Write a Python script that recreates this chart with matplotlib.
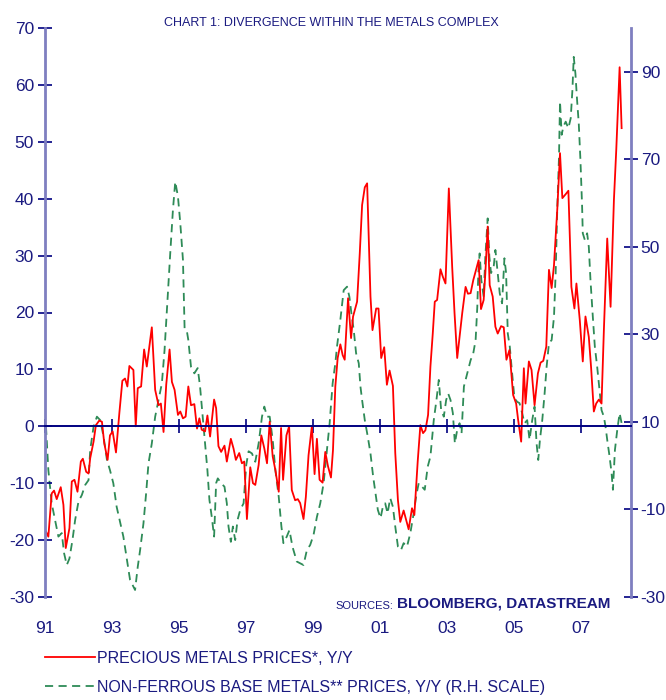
import matplotlib
matplotlib.use("Agg")
import matplotlib.pyplot as plt

plt.rcParams['font.family'] = ['Liberation Sans Narrow', 'Liberation Sans', 'DejaVu Sans']
plt.rcParams['axes.unicode_minus'] = False

NAVY = '#1a1a80'
SPINE = '#7f7fc0'
RED = '#ff0000'
GREEN = '#2e8b57'

# precious metals prices, y/y (left scale)
red_x = [1991.03, 1991.10, 1991.20, 1991.27, 1991.35, 1991.47, 1991.55, 1991.62, 1991.73, 1991.80, 1991.88, 1991.97,
         1992.07, 1992.13, 1992.23, 1992.30, 1992.35, 1992.45, 1992.52, 1992.62, 1992.70, 1992.77, 1992.87, 1992.94,
         1993.02, 1993.12, 1993.22, 1993.31, 1993.39, 1993.46, 1993.52, 1993.64, 1993.71, 1993.77, 1993.87, 1993.96,
         1994.04, 1994.19, 1994.29, 1994.39, 1994.46, 1994.54, 1994.62, 1994.72, 1994.79, 1994.87, 1994.97,
         1995.04, 1995.12, 1995.20, 1995.28, 1995.36, 1995.46, 1995.54, 1995.61, 1995.68, 1995.78, 1995.85, 1995.93,
         1996.05, 1996.11, 1996.18, 1996.26, 1996.36, 1996.43, 1996.55, 1996.63, 1996.70, 1996.80, 1996.88, 1996.95,
         1997.03, 1997.13, 1997.21, 1997.28, 1997.38, 1997.46, 1997.55, 1997.63, 1997.71, 1997.80, 1997.88, 1997.98,
         1998.05, 1998.11, 1998.21, 1998.29, 1998.37, 1998.47, 1998.55, 1998.62, 1998.72, 1998.79, 1998.87, 1998.97,
         1999.05, 1999.12, 1999.20, 1999.29, 1999.37, 1999.45, 1999.54, 1999.60, 1999.67, 1999.74, 1999.82, 1999.89, 1999.95,
         2000.05, 2000.14, 2000.20, 2000.32, 2000.40, 2000.47, 2000.55, 2000.62, 2000.72, 2000.78, 2000.89, 2000.96,
         2001.04, 2001.13, 2001.21, 2001.29, 2001.39, 2001.46, 2001.54, 2001.61, 2001.71, 2001.86, 2001.96,
         2002.03, 2002.13, 2002.21, 2002.29, 2002.36, 2002.44, 2002.51, 2002.58, 2002.64, 2002.71, 2002.81, 2002.88, 2002.96,
         2003.06, 2003.16, 2003.23, 2003.31, 2003.39, 2003.46, 2003.56, 2003.63, 2003.71, 2003.79, 2003.86, 2003.95,
         2004.02, 2004.10, 2004.15, 2004.22, 2004.28, 2004.37, 2004.45, 2004.52, 2004.62, 2004.70, 2004.78, 2004.87, 2004.98,
         2005.07, 2005.13, 2005.22, 2005.30, 2005.35, 2005.45, 2005.53, 2005.62, 2005.72, 2005.80, 2005.88, 2005.97,
         2006.05, 2006.13, 2006.20, 2006.30, 2006.38, 2006.45, 2006.55, 2006.63, 2006.72, 2006.81, 2006.87, 2006.97,
         2007.06, 2007.14, 2007.24, 2007.31, 2007.39, 2007.46, 2007.54, 2007.62, 2007.69, 2007.79, 2007.89, 2007.99,
         2008.06, 2008.16, 2008.22]
red_y = [-18.5, -19.4, -11.8, -11.3, -12.8, -10.7, -13.8, -21.4, -17.9, -9.7, -9.4, -11.5,
         -6.2, -5.7, -8.0, -8.3, -5.6, -2.7, 0.2, 1.0, 0.8, -3.0, -5.9, -1.6,
         -0.9, -4.6, 2.3, 8.0, 8.4, 7.0, 10.6, 9.9, 0.0, 6.7, 7.0, 13.5,
         10.5, 17.4, 6.4, 3.7, 4.0, -1.0, 7.3, 13.5, 7.8, 6.4, 2.0,
         2.6, 1.4, 1.7, 7.0, 3.7, 3.9, -0.4, 1.4, -0.6, -0.9, 1.9, -1.8,
         4.7, 3.2, -3.5, -4.5, -3.4, -6.2, -2.2, -3.9, -5.9, -4.7, -6.5, -6.2,
         -16.3, -7.2, -10.0, -10.3, -6.8, -1.6, -3.9, -6.5, 0.8, -5.3, -7.7, -11.5,
         -0.3, -9.4, -1.6, 0.0, -11.2, -13.0, -12.8, -13.5, -16.3, -12.4, -5.1, 0.0,
         -8.4, -2.2, -9.4, -9.9, -4.5, -7.0, -9.0, -4.2, 7.0, 12.0, 14.4, 12.5, 11.7,
         22.5, 15.5, 19.3, 21.9, 30.4, 38.9, 42.0, 42.7, 22.8, 16.9, 20.7, 20.7,
         12.0, 13.9, 7.3, 9.8, 7.1, -4.7, -13.0, -16.8, -14.8, -18.1, -14.4,
         -15.6, -6.2, 0.2, -1.2, -0.7, 2.0, 10.5, 16.3, 21.9, 22.2, 27.6, 26.3, 25.1,
         41.8, 28.0, 19.9, 12.0, 16.3, 19.9, 24.5, 23.3, 23.4, 25.7, 27.2, 29.2,
         20.6, 22.2, 26.9, 35.1, 24.8, 22.8, 17.5, 16.3, 17.6, 17.4, 11.7, 13.4, 5.5,
         4.0, 1.1, -2.7, 10.2, 4.0, 11.4, 9.9, 3.7, 9.3, 11.2, 11.5, 14.0,
         27.5, 24.3, 28.3, 38.3, 48.0, 40.1, 40.8, 41.4, 24.5, 20.7, 25.1, 18.7,
         11.4, 19.3, 15.7, 10.2, 2.6, 4.0, 4.7, 4.0, 16.9, 33.0, 21.0, 39.8,
         48.6, 63.1, 52.4]

# non-ferrous base metals prices, y/y (right scale)
green_x = [1991.03, 1991.10, 1991.20, 1991.30, 1991.40, 1991.50, 1991.57, 1991.65, 1991.73, 1991.82, 1991.90,
           1992.00, 1992.10, 1992.20, 1992.30, 1992.35, 1992.45, 1992.55, 1992.65, 1992.75, 1992.85, 1992.94,
           1993.04, 1993.14, 1993.24, 1993.34, 1993.44, 1993.54, 1993.69, 1993.77, 1993.84, 1993.94,
           1994.02, 1994.09, 1994.19, 1994.29, 1994.39, 1994.49, 1994.57, 1994.64, 1994.74, 1994.82, 1994.89, 1994.97,
           1995.04, 1995.12, 1995.17, 1995.24, 1995.28, 1995.36, 1995.46, 1995.56, 1995.63, 1995.70, 1995.78, 1995.85, 1995.91, 1995.98,
           1996.05, 1996.11, 1996.16, 1996.26, 1996.36, 1996.43, 1996.48, 1996.55, 1996.61, 1996.68, 1996.75, 1996.83, 1996.93,
           1997.01, 1997.08, 1997.18, 1997.28, 1997.38, 1997.48, 1997.55, 1997.63, 1997.71, 1997.80, 1997.88, 1997.98,
           1998.06, 1998.12, 1998.22, 1998.30, 1998.39, 1998.52, 1998.62, 1998.72, 1998.82, 1998.92,
           1999.02, 1999.12, 1999.22, 1999.32, 1999.42, 1999.50, 1999.59, 1999.67, 1999.72, 1999.82, 1999.92,
           2000.02, 2000.09, 2000.15, 2000.22, 2000.29, 2000.37, 2000.42, 2000.47, 2000.55, 2000.64, 2000.72, 2000.80, 2000.87, 2000.94,
           2001.02, 2001.10, 2001.16, 2001.23, 2001.31, 2001.39, 2001.46, 2001.54, 2001.63, 2001.71, 2001.81, 2001.91,
           2002.01, 2002.09, 2002.16, 2002.26, 2002.34, 2002.43, 2002.51, 2002.61, 2002.69, 2002.76, 2002.83, 2002.91, 2002.98,
           2003.04, 2003.11, 2003.18, 2003.24, 2003.31, 2003.38, 2003.44, 2003.51, 2003.61, 2003.71, 2003.79, 2003.86, 2003.91, 2003.94, 2003.98,
           2004.03, 2004.10, 2004.15, 2004.22, 2004.27, 2004.32, 2004.40, 2004.45, 2004.52, 2004.58, 2004.65, 2004.72, 2004.77, 2004.82, 2004.88, 2004.95,
           2005.02, 2005.10, 2005.17, 2005.25, 2005.32, 2005.40, 2005.47, 2005.55, 2005.62, 2005.68, 2005.73, 2005.78, 2005.85, 2005.92, 2005.98,
           2006.05, 2006.13, 2006.20, 2006.25, 2006.30, 2006.35, 2006.38, 2006.43, 2006.48, 2006.55, 2006.63, 2006.70, 2006.75, 2006.79, 2006.84, 2006.89, 2006.94, 2006.99,
           2007.04, 2007.06, 2007.12, 2007.19, 2007.24, 2007.29, 2007.36, 2007.42, 2007.49, 2007.54, 2007.62, 2007.69, 2007.74, 2007.79, 2007.86, 2007.92, 2007.96,
           2008.02, 2008.09, 2008.16, 2008.22]
green_y = [8.9, -1.0, -8.6, -12.4, -16.2, -15.4, -20.0, -22.7, -21.2, -17.0, -12.4,
           -8.2, -6.7, -4.4, -3.3, 3.6, 8.9, 11.2, 10.4, 6.6, 1.3, -1.0,
           -4.0, -9.4, -12.8, -16.2, -21.2, -26.1, -28.4, -23.1, -19.3, -13.2,
           -6.3, 0.5, 5.1, 11.2, 15.0, 18.8, 26.4, 35.6, 48.5, 58.4, 64.9, 61.5,
           55.4, 47.0, 31.0, 30.6, 28.7, 22.6, 21.1, 22.3, 18.1, 12.0, 5.1, -1.0, -7.8, -11.7,
           -16.2, -4.0, -2.9, -4.0, -4.8, -8.6, -13.9, -17.4, -13.9, -17.0, -12.4, -10.1, -8.6,
           0.2, 3.3, 2.8, 0.9, 5.1, 11.2, 13.5, 11.2, 11.2, 5.9, -1.0, -7.1,
           -13.9, -17.7, -16.2, -14.7, -18.5, -21.9, -22.3, -22.7, -19.3, -18.1,
           -15.8, -11.7, -8.6, -4.0, 3.6, 9.7, 18.8, 23.4, 27.2, 33.3, 40.1,
           40.9, 38.6, 34.8, 31.0, 25.7, 23.4, 18.1, 15.0, 10.4, 6.6, 2.8, -2.5, -6.3, -10.1,
           -12.0, -9.0, -8.6, -10.9, -7.4, -9.4, -13.9, -18.5, -19.3, -17.7, -18.5, -15.4,
           -10.9, -6.7, -4.0, -4.8, -5.5, -0.2, 2.1, 10.4, 15.0, 19.6, 12.7, 11.2, 15.0,
           16.5, 15.0, 12.0, 5.1, 8.2, 9.7, 7.4, 18.1, 21.1, 24.1, 25.7, 28.7, 36.3, 44.0, 48.5,
           42.4, 38.6, 47.8, 56.5, 47.8, 44.0, 45.5, 49.3, 44.0, 39.4, 37.1, 47.4, 44.0, 30.2, 27.2, 21.1,
           15.4, 14.6, 14.3, 12.0, 9.7, 10.4, 5.9, 10.4, 13.5, 5.1, 1.3, 5.9, 10.4, 16.5, 22.6,
           28.0, 28.7, 34.0, 44.0, 59.2, 70.6, 83.2, 75.6, 77.5, 78.6, 77.1, 79.4, 85.8, 93.4, 89.6, 83.5, 78.2, 69.8,
           59.2, 53.1, 51.6, 53.1, 50.0, 42.4, 34.0, 27.2, 22.6, 18.8, 12.7, 11.2, 8.9, 5.9, 2.1, -1.7, -5.5,
           3.6, 8.2, 12.0, 9.7]

year_ticks = [1991, 1993, 1995, 1997, 1999, 2001, 2003, 2005, 2007]
year_labels = ['91', '93', '95', '97', '99', '01', '03', '05', '07']
left_ticks = [-30, -20, -10, 0, 10, 20, 30, 40, 50, 60, 70]
right_ticks = [-30, -10, 10, 30, 50, 70, 90]

fig = plt.figure(figsize=(6.66, 7.0), dpi=100)
ax = fig.add_axes([45 / 666, 103 / 700, 586 / 666, 569 / 700])
ax2 = ax.twinx()
ax.set_zorder(ax2.get_zorder() + 1)
ax.patch.set_visible(False)

ax2.plot(green_x, green_y, color=GREEN, lw=1.3, dashes=(4.5, 3), label='NON-FERROUS BASE METALS** PRICES, Y/Y (R.H. SCALE)')
ax.plot(red_x, red_y, color=RED, lw=1.3, label='PRECIOUS METALS PRICES*, Y/Y')

ax.set_xlim(1991, 2008.5)
ax.set_ylim(-30, 70)
ax2.set_ylim(-30, 100)

# zero line with year ticks
ax.spines['bottom'].set_position(('data', 0))
ax.spines['bottom'].set_color('#000080')
ax.spines['bottom'].set_linewidth(1.4)
ax.set_xticks(year_ticks)
ax.tick_params(axis='x', direction='inout', length=10, width=1.2, color='#000080', labelbottom=False)

# year labels at the bottom
sec = ax.secondary_xaxis('bottom')
sec.set_xticks(year_ticks)
sec.set_xticklabels(year_labels)
sec.spines['bottom'].set_visible(False)
sec.tick_params(length=0, pad=17, labelsize=12.5, labelcolor=NAVY)

for a in (ax, ax2):
    a.spines['top'].set_visible(False)
ax2.spines['bottom'].set_visible(False)
ax.spines['right'].set_visible(False)
ax2.spines['left'].set_visible(False)
ax.spines['left'].set_color(SPINE)
ax.spines['left'].set_linewidth(2)
ax2.spines['right'].set_color(SPINE)
ax2.spines['right'].set_linewidth(2)

ax.set_yticks(left_ticks)
ax.tick_params(axis='y', direction='inout', length=10, width=1.2, color='#000080', labelsize=12.5, labelcolor=NAVY, pad=3)
ax2.set_yticks(right_ticks)
ax2.tick_params(axis='y', direction='inout', length=10, width=1.2, color='#000080', labelsize=12.5, labelcolor=NAVY, pad=2)

fig.text(331 / 666, 1 - 23 / 700, 'CHART 1: DIVERGENCE WITHIN THE METALS COMPLEX',
         ha='center', va='center', fontsize=9, color=NAVY)
fig.text(393 / 666, 1 - 606 / 700, 'SOURCES:', ha='right', va='center', fontsize=8, color=NAVY)
fig.text(610 / 666, 1 - 604 / 700, 'BLOOMBERG, DATASTREAM', ha='right', va='center',
         fontsize=11, fontweight='bold', color=NAVY)

h1, l1 = ax.get_legend_handles_labels()
h2, l2 = ax2.get_legend_handles_labels()
fig.legend(h1 + h2, l1 + l2, loc='upper left', bbox_to_anchor=(45 / 666, 1 - 651 / 700),
           frameon=False, fontsize=11.5, labelcolor=NAVY, handlelength=3.1, handletextpad=0.15,
           labelspacing=0.85, borderpad=0, borderaxespad=0)

fig.savefig('out.png', dpi=100)
